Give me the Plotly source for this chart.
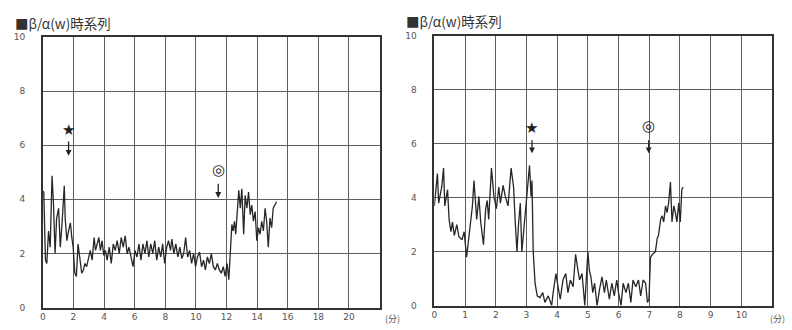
import plotly.graph_objects as go

# ---- data ----
left_t = [0.0, 0.06, 0.17, 0.26, 0.37, 0.48, 0.6, 0.69, 0.8, 0.9, 1.03, 1.14, 1.25, 1.4, 1.46, 1.57,
          1.68, 1.8, 1.89, 1.98, 2.09, 2.19, 2.3, 2.41, 2.54, 2.65, 2.75, 2.86, 3.0, 3.1, 3.22, 3.35,
          3.44, 3.55, 3.66, 3.76, 3.87, 3.98, 4.09, 4.2, 4.34, 4.47, 4.6, 4.73, 4.86, 4.99, 5.12, 5.25,
          5.38, 5.51, 5.63, 5.76, 5.89, 6.02, 6.15, 6.28, 6.41, 6.54, 6.67, 6.8, 6.92, 7.05, 7.18, 7.31,
          7.44, 7.57, 7.7, 7.83, 7.96, 8.09, 8.21, 8.34, 8.43, 8.56, 8.69, 8.82, 8.95, 9.08, 9.2, 9.33,
          9.46, 9.59, 9.72, 9.85, 9.98, 10.1, 10.24, 10.37, 10.5, 10.62, 10.75, 10.88, 11.01, 11.14,
          11.27, 11.4, 11.53, 11.66, 11.79, 11.91, 12.04, 12.15, 12.26, 12.35, 12.43, 12.52, 12.6,
          12.69, 12.8, 12.9, 13.0, 13.12, 13.22, 13.33, 13.44, 13.55, 13.65, 13.76, 13.87, 13.98,
          14.09, 14.19, 14.3, 14.41, 14.52, 14.62, 14.73, 14.84, 14.95, 15.05, 15.16, 15.27]
left_v = [4.3, 4.27, 1.75, 1.63, 2.83, 2.23, 4.87, 3.9, 2.0, 3.3, 3.67, 2.23, 3.07, 4.5, 3.3, 2.47,
          2.83, 3.13, 2.6, 2.23, 1.27, 1.15, 2.35, 1.75, 1.27, 1.39, 1.63, 1.51, 1.87, 2.11, 1.75, 2.59,
          2.11, 2.35, 2.59, 2.11, 2.47, 1.93, 2.11, 1.75, 2.23, 1.63, 2.35, 2.11, 2.47, 1.99, 2.59, 2.23,
          2.65, 1.99, 2.23, 1.87, 1.51, 2.11, 1.87, 2.35, 1.75, 2.35, 1.99, 2.47, 1.87, 2.35, 1.99, 2.47,
          1.75, 2.23, 1.87, 2.35, 1.63, 2.23, 2.47, 2.11, 2.53, 1.99, 2.35, 1.87, 2.23, 1.81, 1.99, 2.59,
          1.87, 2.11, 1.63, 1.99, 1.51, 1.87, 2.05, 1.51, 1.75, 1.39, 1.87, 1.63, 1.99, 1.51,
          1.39, 1.63, 1.39, 1.27, 1.51, 1.15, 1.63, 1.03, 2.47, 3.07, 2.83, 3.19, 2.71,
          3.67, 4.33, 3.67, 4.39, 2.71, 4.15, 3.67, 4.27, 3.43, 3.79, 3.19, 3.55, 2.47,
          2.95, 2.71, 3.19, 2.83, 3.67, 3.19, 2.23, 3.31, 2.95, 3.67, 3.79, 3.91]

right_t = [0.0, 0.1, 0.14, 0.24, 0.3, 0.34, 0.43, 0.48, 0.54, 0.59, 0.65, 0.73, 0.8, 0.9, 0.97,
           1.05, 1.13, 1.24, 1.29, 1.38, 1.45, 1.51, 1.6, 1.67, 1.72, 1.77, 1.86, 1.94, 2.02, 2.1,
           2.15, 2.24, 2.31, 2.4, 2.5, 2.58, 2.63, 2.69, 2.74, 2.8, 2.85, 2.92, 3.0, 3.1, 3.15, 3.18,
           3.22, 3.28, 3.35, 3.44, 3.53, 3.6, 3.71, 3.82, 3.87, 3.96, 4.03, 4.1, 4.19, 4.28, 4.35,
           4.43, 4.52, 4.6, 4.68, 4.73, 4.81, 4.9, 5.0, 5.05, 5.1, 5.16, 5.22, 5.3, 5.38, 5.46, 5.54,
           5.6, 5.7, 5.78, 5.86, 5.94, 6.0, 6.08, 6.15, 6.24, 6.32, 6.4, 6.47, 6.56, 6.65, 6.72, 6.8,
           6.88, 6.94, 6.99, 7.04, 7.1, 7.2, 7.26, 7.3, 7.37, 7.42, 7.47, 7.53, 7.58, 7.63, 7.69,
           7.74, 7.8, 7.85, 7.9, 7.96, 8.01, 8.06, 8.1]
right_v = [3.7, 4.9, 3.8, 4.4, 5.1, 3.7, 4.3, 3.2, 2.74, 3.1, 2.6, 3.0, 2.56, 2.44, 2.74,
           1.8, 2.6, 3.7, 4.64, 3.2, 4.05, 3.1, 2.26, 3.57, 3.9, 3.2, 5.1, 4.05, 3.6, 4.4,
           3.8, 4.46, 4.05, 3.7, 5.1, 4.4, 3.2, 2.0, 3.0, 3.8, 2.0, 2.86, 4.05, 5.2, 4.05, 4.64,
           2.0, 0.83, 0.36, 0.3, 0.48, 0.12, 0.36, 0.0, 0.48, 1.19, 0.7, 0.24, 0.95, 1.19, 0.48,
           0.95, 0.7, 1.9, 1.3, 0.95, 1.19, 0.0, 2.0, 1.3, 1.07, 0.48, 0.83, 0.0, 0.6, 1.07, 0.48,
           0.95, 0.24, 0.83, 0.36, 0.95, 0.48, 0.0, 0.83, 0.48, 0.83, 0.12, 0.95, 0.7, 0.95, 0.36, 0.95,
           0.83, 0.12, 0.24, 1.79, 1.9, 2.0, 2.5, 2.6, 3.2, 3.33, 3.1, 3.7, 3.45, 3.8, 4.58,
           3.1, 3.7, 3.45, 3.1, 3.8, 3.1, 4.3, 4.4]

left_xticks = [0, 2, 4, 6, 8, 10, 12, 14, 16, 18, 20]
right_xticks = [0, 1, 2, 3, 4, 5, 6, 7, 8, 9, 10]
y_ticks = [0, 2, 4, 6, 8, 10]
title_text = "■β/α(w)時系列"
unit_text = "(分)"

# ---- figure ----
W, H = 792, 330
line_col = "#262626"
grid_col = "#5e5e5e"
tick_font = dict(family="DejaVu Sans", size=9, color="#555555")

fig = go.Figure()
fig.add_trace(go.Scatter(x=left_t, y=left_v, mode="lines", xaxis="x", yaxis="y",
                         line=dict(color=line_col, width=1.3), showlegend=False))
fig.add_trace(go.Scatter(x=right_t, y=right_v, mode="lines", xaxis="x2", yaxis="y2",
                         line=dict(color=line_col, width=1.3), showlegend=False))

def px_x(p):
    return p / W

def px_y(p):
    return (H - p) / H

common_x = dict(showgrid=True, gridcolor=grid_col, gridwidth=1, zeroline=False,
                showline=True, linecolor="#333333", linewidth=1.5, mirror=True,
                ticks="", tickfont=tick_font, fixedrange=True)
common_y = dict(showgrid=True, gridcolor=grid_col, gridwidth=1, zeroline=False,
                showline=True, linecolor="#333333", linewidth=1.5, mirror=True,
                ticks="", tickfont=tick_font, range=[0, 10], tickvals=y_ticks,
                ticklabelstandoff=14, fixedrange=True)

fig.update_layout(
    width=W, height=H,
    margin=dict(l=0, r=0, t=0, b=0),
    paper_bgcolor="white", plot_bgcolor="white",
    xaxis=dict(common_x, domain=[px_x(40), px_x(378)], range=[0, 22], tickvals=left_xticks,
               anchor="y"),
    yaxis=dict(common_y, domain=[px_y(312), px_y(33)], anchor="x"),
    xaxis2=dict(common_x, domain=[px_x(433), px_x(772)], range=[0, 11], tickvals=right_xticks,
                anchor="y2"),
    yaxis2=dict(common_y, domain=[px_y(310), px_y(32)], anchor="x2"),
)

ann = []
title_font = dict(family="Noto Sans CJK JP", size=13.5, color="#333333")
ann.append(dict(text=title_text, x=px_x(10), y=px_y(19), xref="paper", yref="paper",
                xanchor="left", yanchor="middle", showarrow=False, font=title_font))
ann.append(dict(text=title_text, x=px_x(403), y=px_y(17), xref="paper", yref="paper",
                xanchor="left", yanchor="middle", showarrow=False, font=title_font))
unit_font = dict(family="Noto Sans CJK JP", size=9, color="#555555")
ann.append(dict(text=unit_text, x=px_x(391), y=px_y(323), xref="paper", yref="paper",
                xanchor="center", yanchor="middle", showarrow=False, font=unit_font))
ann.append(dict(text=unit_text, x=px_x(777), y=px_y(323), xref="paper", yref="paper",
                xanchor="center", yanchor="middle", showarrow=False, font=unit_font))

mark_font = dict(family="DejaVu Sans", size=15, color="#222222")
marks = [
    ("x", "y", "★", 1.68, 6.57, 6.19, 5.61),
    ("x", "y", "◎", 11.46, 5.07, 4.63, 4.05),
    ("x2", "y2", "★", 3.18, 6.6, 6.19, 5.65),
    ("x2", "y2", "◎", 6.98, 6.67, 6.19, 5.65),
]
for xr, yr, sym, mx, my, a0, a1 in marks:
    ann.append(dict(text=sym, x=mx, y=my, xref=xr, yref=yr, showarrow=False,
                    font=mark_font, xanchor="center", yanchor="middle"))
    ann.append(dict(text="", x=mx, y=a1, xref=xr, yref=yr, ax=mx, ay=a0,
                    axref=xr, ayref=yr, showarrow=True, arrowhead=2, arrowsize=0.9,
                    arrowwidth=1.3, arrowcolor="#222222"))
fig.update_layout(annotations=ann)

fig.write_html("out.html", config={"displayModeBar": False},
               post_script="document.body.style.margin='0';document.body.style.overflow='hidden';")
